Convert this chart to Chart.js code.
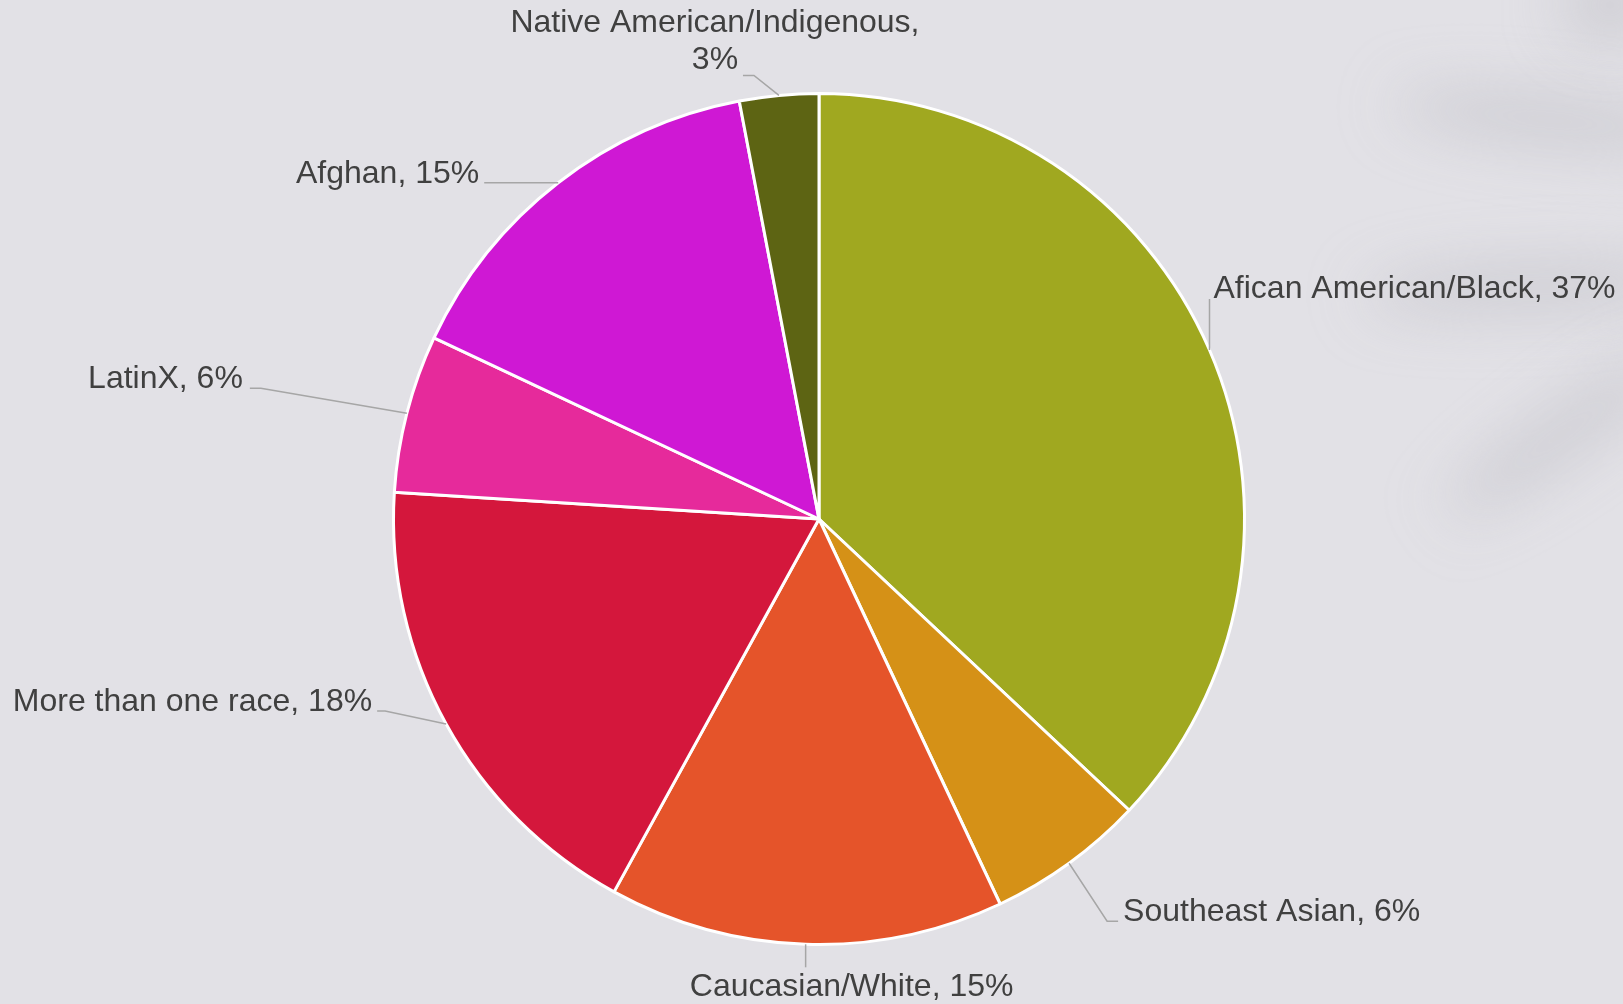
<!DOCTYPE html>
<html lang="en">
<head>
  <meta charset="UTF-8" />
  <title>Race / ethnicity breakdown</title>
  <script src="https://cdn.jsdelivr.net/npm/chart.js"></script>
  <style>
    html, body { margin: 0; padding: 0; }
    body { width: 1623px; height: 1004px; background: #e2e1e6; overflow: hidden; position: relative; font-family: "Liberation Sans", Arial, sans-serif; }
    .shade { position: absolute; background: rgba(175,175,182,0.4); border-radius: 50%; filter: blur(30px); }
    .wrap { position: absolute; left: 0; top: 0; width: 1623px; height: 1004px; }
  </style>
</head>
<body>
  <div class="shade" style="left:1390px; top:95px; width:320px; height:50px; transform: rotate(6deg);"></div>
  <div class="shade" style="left:1360px; top:262px; width:340px; height:50px; transform: rotate(-3deg);"></div>
  <div class="shade" style="left:1420px; top:410px; width:280px; height:50px; transform: rotate(-35deg);"></div>
  <div class="shade" style="left:1560px; top:-30px; width:100px; height:70px;"></div>
  <div class="wrap"><canvas id="pie" width="1623" height="1004"></canvas></div>

<script>
  const labels = ["Afican American/Black", "Southeast Asian", "Caucasian/White", "More than one race", "LatinX", "Afghan", "Native American/Indigenous"];
  const shares = [37, 6, 15, 18, 6, 15, 3];
  const colors = ["#a0a820", "#d59117", "#e5542a", "#d4173c", "#e62a9b", "#cf18d4", "#5d6413"];

  // leader line + label placement, relative to the slice's outer mid point
  const labelSpots = [
    { ex: 0,    ey: -51, tail: 0,   align: "left",   tx: 4,   ty: -1, lines: 1 },
    { ex: 38,   ey: 58,  tail: 11,  align: "left",   tx: 5,   ty: 0,  lines: 1 },
    { ex: 0,    ey: 23,  tail: 0,   align: "center", tx: 46,  ty: 29, lines: 1 },
    { ex: -61,  ey: -13, tail: -8,  align: "right",  tx: -5,  ty: 0,  lines: 1 },
    { ex: -146, ey: -25, tail: -11, align: "right",  tx: -7,  ty: 0,  lines: 1 },
    { ex: -74,  ey: 0,   tail: 0,   align: "right",  tx: -5,  ty: 0,  lines: 1 },
    { ex: -25,  ey: -20, tail: -11, align: "center", tx: -28, ty: -6, lines: 2 }
  ];

  const calloutPlugin = {
    id: "callouts",
    afterDatasetsDraw(chart) {
      const ctx = chart.ctx;
      const arcs = chart.getDatasetMeta(0).data;
      ctx.save();
      ctx.font = "32px 'Liberation Sans', Arial, sans-serif";
      ctx.textBaseline = "alphabetic";
      arcs.forEach((arc, i) => {
        const mid = (arc.startAngle + arc.endAngle) / 2;
        const px = arc.x + Math.cos(mid) * arc.outerRadius;
        const py = arc.y + Math.sin(mid) * arc.outerRadius;
        const s = labelSpots[i];
        const bx = px + s.ex, by = py + s.ey;
        const cx = bx + s.tail;
        ctx.strokeStyle = "#a6a6a6";
        ctx.lineWidth = 1.5;
        ctx.beginPath();
        ctx.moveTo(px, py);
        ctx.lineTo(bx, by);
        ctx.lineTo(cx, by);
        ctx.stroke();

        const text = labels[i] + ", " + shares[i] + "%";
        const rows = s.lines === 2 ? [labels[i] + ",", shares[i] + "%"] : [text];
        ctx.fillStyle = "#404040";
        ctx.textAlign = s.align;
        const tx = cx + s.tx;
        let ty = by + s.ty;
        for (let r = rows.length - 1; r >= 0; r--) {
          ctx.fillText(rows[r], tx, ty);
          ty -= 37;
        }
      });
      ctx.restore();
    }
  };

  new Chart(document.getElementById("pie"), {
    type: "pie",
    data: {
      labels: labels,
      datasets: [{
        data: shares,
        backgroundColor: colors,
        borderColor: "#ffffff",
        borderWidth: 3
      }]
    },
    options: {
      responsive: false,
      animation: false,
      layout: { padding: { top: 92, bottom: 58, left: 99, right: 84 } },
      plugins: {
        legend: { display: false },
        tooltip: { enabled: false }
      }
    },
    plugins: [calloutPlugin]
  });
</script>
</body>
</html>
